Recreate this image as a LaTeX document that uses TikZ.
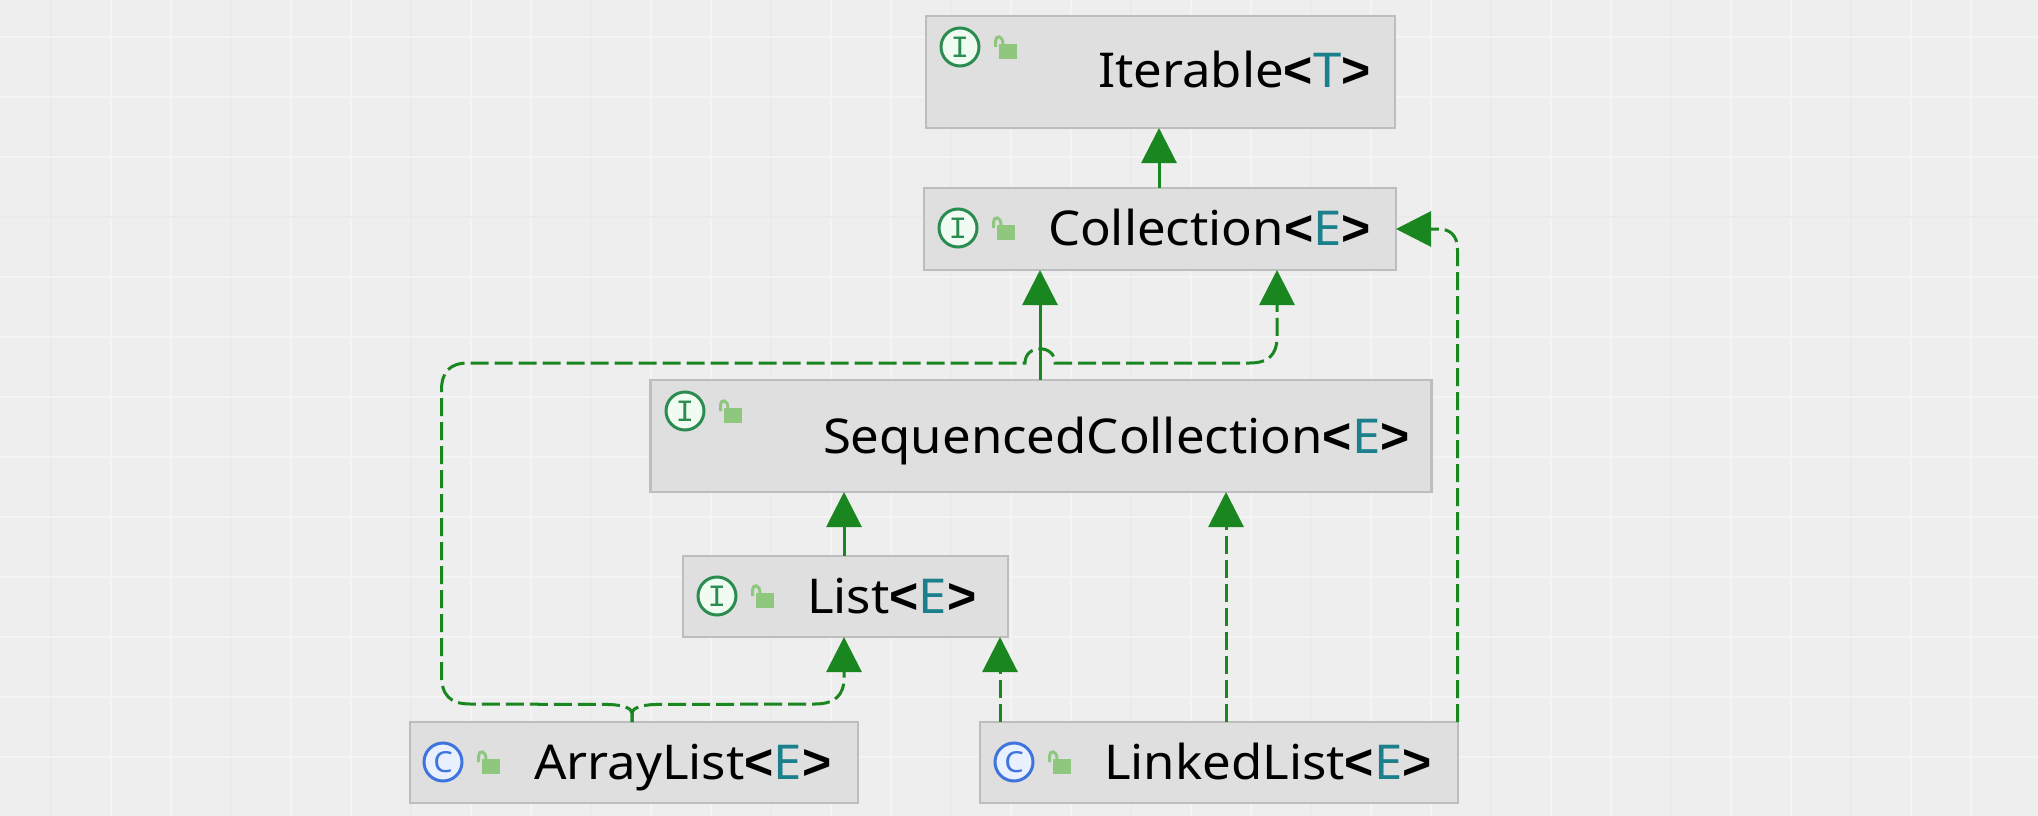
\documentclass[tikz,border=0pt]{standalone}
\usepackage{fontspec}
\setmainfont{Noto Sans}[FakeStretch=1.06]
\newfontfamily\iconmono{Liberation Mono}
\newfontfamily\anglefont{Liberation Sans}
\usetikzlibrary{arrows.meta}
\definecolor{bgc}{HTML}{EEEEEE}
\definecolor{gridw}{HTML}{F4F4F4}
\definecolor{gridg}{HTML}{EAEAEA}
\definecolor{boxf}{HTML}{DFDFDF}
\definecolor{boxd}{HTML}{BDBDBD}
\definecolor{arrowg}{HTML}{1A861F}
\definecolor{tealc}{HTML}{1B7F8C}
\definecolor{lockc}{HTML}{8FC77F}
\definecolor{ifg}{HTML}{2A8C50}
\definecolor{iff}{HTML}{F0FBF2}
\definecolor{cfg}{HTML}{3F74DC}
\definecolor{cff}{HTML}{E9F0FF}
\newcommand{\tparam}[1]{{\anglefont\bfseries\fontsize{50pt}{50pt}\selectfont<}\textcolor{tealc}{#1}{\anglefont\bfseries\fontsize{50pt}{50pt}\selectfont>}}
\tikzset{
  x=1pt,y=-1pt,
  umlbox/.style={draw=boxd,fill=boxf,line width=2.5pt,inner sep=0pt,outer sep=0pt,rectangle},
  typename/.style={anchor=base west,inner sep=0pt,outer sep=0pt,font=\fontsize{48pt}{50pt}\selectfont,text=black},
  ifaceicon/.style={circle,draw=ifg,fill=iff,line width=3pt,minimum size=38pt,inner sep=0pt,text=ifg,font=\iconmono\fontsize{31pt}{32pt}\selectfont},
  classicon/.style={circle,draw=cfg,fill=cff,line width=3pt,minimum size=38pt,inner sep=0pt,text=cfg,font=\fontsize{29pt}{30pt}\selectfont},
  solidedge/.style={draw=arrowg,line width=3pt,-{Triangle[length=35pt,width=35pt]}},
  dashedge/.style={solidedge,dash pattern=on 18pt off 6pt},
  pics/lockmark/.style={code={
    \fill[lockc] (39,-3) rectangle (57,12);
    \draw[lockc,line width=3pt] (35.5,0) -- (35.5,-6) .. controls (35.5,-12) and (43,-12) .. (43,-3);
  }},
}
\begin{document}
\begin{tikzpicture}
\useasboundingbox (0,0) rectangle (2038,816);
\fill[bgc] (0,0) rectangle (2038,816);
% background grid
\foreach \k in {0,...,32}{
  \pgfmathtruncatemacro{\px}{51+60*\k}
  \pgfmathtruncatemacro{\odd}{mod(\k,3)}
  \ifnum\odd=0 \draw[gridg,line width=2.5pt] (\px,0) -- (\px,816);
  \else \draw[gridw,line width=2.5pt] (\px,0) -- (\px,816); \fi
}
\foreach \k in {0,...,13}{
  \pgfmathtruncatemacro{\py}{37+60*\k}
  \draw[gridw,line width=2pt] (0,\py) -- (2038,\py);
}
\draw[gridg,line width=2pt] (0,217) -- (2038,217);
% boxes
\node[umlbox,minimum width=469pt,minimum height=112pt] (iter) at (1160.5,72) {};
\node[umlbox,minimum width=472pt,minimum height=82pt] (coll) at (1160,229) {};
\node[umlbox,minimum width=781pt,minimum height=112pt] (seq) at (1041,436) {};
\node[umlbox,minimum width=325pt,minimum height=81pt] (list) at (845.5,596.5) {};
\node[umlbox,minimum width=448pt,minimum height=81pt] (alist) at (634,762.5) {};
\node[umlbox,minimum width=478pt,minimum height=81pt] (llist) at (1219,762.5) {};
% names
\node[typename] (iterT) at (1098,88) {Iterable\tparam{T}};
\node[typename] (collT) at (1048,245) {Collection\tparam{E}};
\node[typename] (seqT) at (823,453) {SequencedCollection\tparam{E}};
\node[typename] (listT) at (807,613) {List\tparam{E}};
\node[typename] (alistT) at (534,779) {ArrayList\tparam{E}};
\node[typename] (llistT) at (1104,779) {LinkedList\tparam{E}};
% icons
\node[ifaceicon] (iterI) at (960,47) {I};
\pic at (960,47) {lockmark};
\node[ifaceicon] (collI) at (958,228) {I};
\pic at (958,228) {lockmark};
\node[ifaceicon] (seqI) at (685,411) {I};
\pic at (685,411) {lockmark};
\node[ifaceicon] (listI) at (717,596) {I};
\pic at (717,596) {lockmark};
\node[classicon] (alistI) at (443,762) {C};
\pic at (443,762) {lockmark};
\node[classicon] (llistI) at (1014,762) {C};
\pic at (1014,762) {lockmark};
% connectors
\draw[solidedge] ([xshift=235pt]coll.north west) -- ([xshift=233pt]iter.south west);
\draw[solidedge] ([xshift=389.5pt]seq.north west) -- ([xshift=116pt]coll.south west);
\draw[solidedge] ([xshift=161pt]list.north west) -- ([xshift=193.5pt]seq.south west);
% ArrayList -> Collection (left route, with hop)
\draw[dashedge] ([xshift=222pt]alist.north west) -- (632,713)
  .. controls (632,708) and (622,705) .. (610,704.5) -- (470,704)
  .. controls (450,704) and (441.5,695) .. (441.5,675) -- (441.5,390)
  .. controls (441.5,372) and (450,363) .. (468,363) -- (1025,363)
  .. controls (1025,344) and (1055,344) .. (1055,363) -- (1250,363)
  .. controls (1268,363) and (1277,355) .. (1277,337) -- ([xshift=353pt]coll.south west);
% ArrayList -> List
\draw[dashedge] ([xshift=222pt]alist.north west) -- (632,713)
  .. controls (632,708) and (642,705) .. (654,704.5) -- (815,704)
  .. controls (835,704) and (844,695) .. (844,678) -- ([xshift=161pt]list.south west);
% LinkedList -> others
\draw[dashedge] ([xshift=20pt]llist.north west) -- ([xshift=317pt]list.south west);
\draw[dashedge] ([xshift=246pt]llist.north west) -- ([xshift=575.5pt]seq.south west);
\draw[dashedge] ([xshift=477.5pt]llist.north west) -- (1457.5,250)
  .. controls (1457.5,235) and (1450,229) .. (1438,229) -- (coll.east |- 0,229);
\end{tikzpicture}
\end{document}
